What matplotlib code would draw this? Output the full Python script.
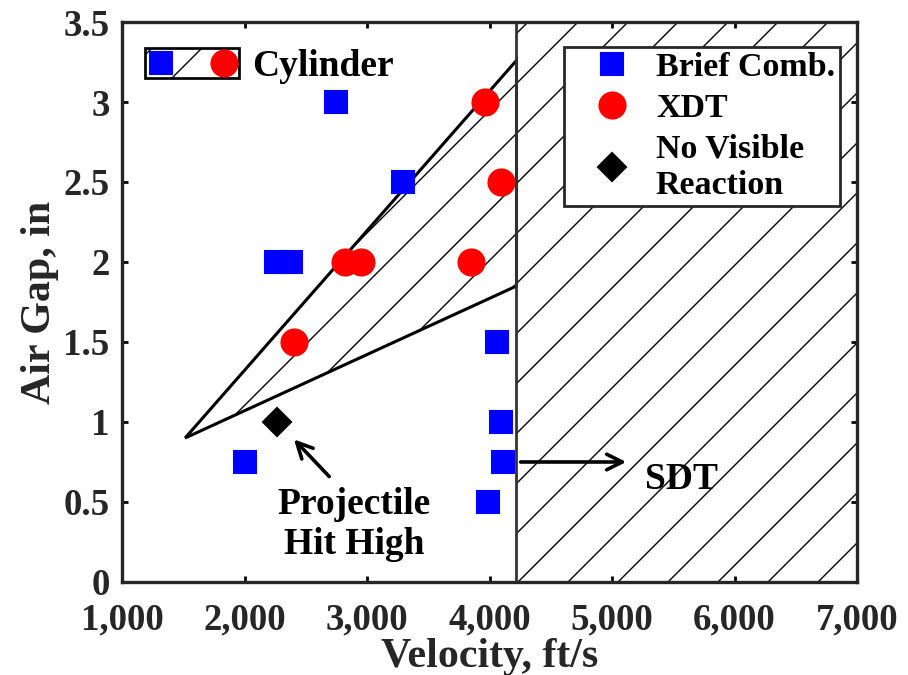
"""
Air gap vs. projectile velocity, cylinder test outcomes.
"""

import matplotlib
matplotlib.use("Agg")
import matplotlib.pyplot as plt
from matplotlib.patches import Rectangle, Patch
from matplotlib.lines import Line2D
from matplotlib.legend_handler import HandlerBase
from matplotlib.ticker import FuncFormatter

# test shots (velocity ft/s, air gap in)
brief_v = [2750, 3290, 2260, 2380, 4060, 4095, 4110, 3990, 2000]
brief_gap = [3.0, 2.5, 2.0, 2.0, 1.5, 1.0, 0.75, 0.5, 0.75]

xdt_v = [3965, 4090, 2820, 2950, 3850, 2405]
xdt_gap = [3.0, 2.5, 2.0, 2.0, 2.0, 1.5]

nvr_v = [2265]
nvr_gap = [1.0]

# hatched cylinder region (wedge) and SDT threshold
cyl_v = [1515, 4220, 4220]
cyl_gap = [0.9, 3.26, 1.85]
sdt_v = 4220

x_ticks = [1000, 2000, 3000, 4000, 5000, 6000, 7000]
y_ticks = [0, 0.5, 1, 1.5, 2, 2.5, 3, 3.5]

plt.rcParams['font.family'] = ['Liberation Serif', 'DejaVu Serif']
plt.rcParams['font.weight'] = 'bold'
plt.rcParams['hatch.linewidth'] = 0.67

txt_col = '#262626'
tick_fs = 17.7
label_fs = 20.2


class CylinderHandler(HandlerBase):
    # hatched box with a blue square on the left and red circle on the right
    def create_artists(self, legend, orig_handle, xdescent, ydescent,
                       width, height, fontsize, trans):
        x0, y0 = -xdescent, -ydescent
        box = Rectangle((x0, y0), width, height, facecolor='white',
                        edgecolor='black', hatch='/', lw=1.3, transform=trans)
        yc = y0 + height / 2
        sq = Line2D([x0 + 0.17 * width], [yc], marker='s', ms=10.7,
                    color='blue', ls='none', transform=trans)
        ci = Line2D([x0 + 0.84 * width], [yc], marker='o', ms=12.5,
                    color='red', ls='none', transform=trans)
        return [box, sq, ci]


fig = plt.figure(figsize=(908 / 150, 675 / 150), dpi=150)
ax = fig.add_axes([0.1344, 0.1378, 0.8095, 0.8296])

# hatched regions
ax.axvspan(sdt_v, x_ticks[-1], facecolor='none', edgecolor='black',
           hatch='/', lw=0, zorder=1)
ax.fill(cyl_v, cyl_gap, facecolor='none', edgecolor='black', hatch='/',
        lw=1.47, zorder=2)
ax.axvline(sdt_v, color='#333333', lw=1.33, zorder=2)

# data
ax.plot(brief_v, brief_gap, 's', color='blue', ms=10.7, ls='none',
        label='Brief Comb.', zorder=4)
ax.plot(xdt_v, xdt_gap, 'o', color='red', ms=12.5, ls='none',
        label='XDT', zorder=4)
ax.plot(nvr_v, nvr_gap, 'D', color='black', ms=9.3, ls='none',
        label='No Visible\nReaction', zorder=4)

# annotations
ax.annotate('', xy=(2380, 0.91), xytext=(2715, 0.64),
            arrowprops=dict(arrowstyle='->', lw=1.73, color='black',
                            mutation_scale=18.7))
ax.text(2895, 0.36, 'Projectile\nHit High', ha='center', va='center',
        fontsize=18, color='black', linespacing=1.2)
ax.annotate('', xy=(5150, 0.75), xytext=(sdt_v, 0.75),
            arrowprops=dict(arrowstyle='->', lw=1.73, color='black',
                            mutation_scale=18.7))
ax.text(5570, 0.64, 'SDT', ha='center', va='center', fontsize=18,
        color='black')

ax.set_xlim(x_ticks[0], x_ticks[-1])
ax.set_ylim(y_ticks[0], y_ticks[-1])
ax.set_xticks(x_ticks)
ax.set_yticks(y_ticks)
ax.xaxis.set_major_formatter(FuncFormatter(lambda v, p: f'{int(v):,}'))
ax.yaxis.set_major_formatter(FuncFormatter(lambda v, p: f'{v:g}'))
ax.tick_params(direction='in', top=True, right=True, length=2.9, width=1.33,
               labelsize=tick_fs, labelcolor=txt_col, pad=6)
ax.tick_params(axis='x', pad=10)
for s in ax.spines.values():
    s.set_linewidth(1.6)
    s.set_color('#262626')

ax.set_xlabel('Velocity, ft/s', fontsize=label_fs, fontweight='bold',
              color=txt_col, labelpad=0)
ax.set_ylabel('Air Gap, in', fontsize=label_fs, fontweight='bold',
              color=txt_col, labelpad=2)

leg = ax.legend(loc='upper right', bbox_to_anchor=(0.977, 0.955),
                borderaxespad=0, fontsize=16.3, frameon=True, fancybox=False,
                framealpha=1, edgecolor='#262626', borderpad=0.15,
                handlelength=2.5, handletextpad=0.05, labelspacing=0.28)
leg.get_frame().set_linewidth(1.33)
for t in leg.get_texts():
    t.set_linespacing(1.22)
leg.set_zorder(5)

cyl_handle = Patch()
leg2 = ax.legend([cyl_handle], ['Cylinder'], loc='center left',
                 bbox_to_anchor=(0.031, 0.922), borderaxespad=0, borderpad=0,
                 frameon=False, fontsize=18, handlelength=2.5,
                 handleheight=0.87, handletextpad=0.35,
                 handler_map={cyl_handle: CylinderHandler()})
ax.add_artist(leg)

fig.savefig('out.png', dpi=150)
